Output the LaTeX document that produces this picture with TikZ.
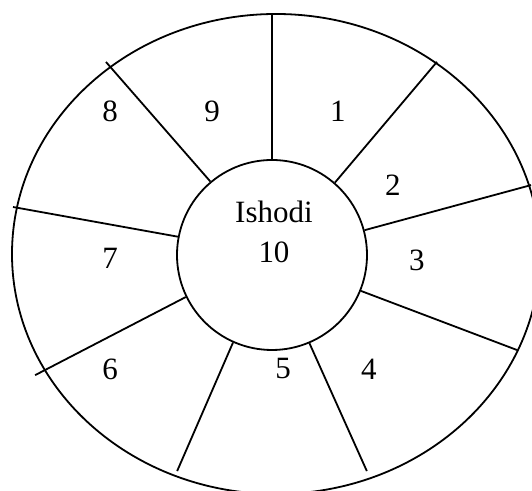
\documentclass[tikz,border=0pt]{standalone}
\usepackage{fontspec}
\setmainfont{Liberation Serif}
\usepackage{tikz}
\usetikzlibrary{calc}

\begin{document}
\begin{tikzpicture}[x=0.5pt, y=0.5pt, line width=0.9pt,
  font=\fontsize{15.5}{19}\selectfont,
  hubring/.style={circle,draw,minimum size=95pt,inner sep=0pt},
  secnum/.style={inner sep=1pt}]
\useasboundingbox (0,0) rectangle (532,491);
\draw (276,237) ellipse [x radius=264, y radius=240];
\node[hubring] (hub) at (272,236) {};
\foreach \ang/\len [count=\i] in {90/242,49.5/254,15.1/268.3,338.8/262.8,293.7/236,246.3/236,206.9/265.6,169.5/263.4,130.7/254.6}{
  \coordinate (rim\i) at ($(hub.center)+(\ang:\len)$);
  \draw (hub.\ang)--(rim\i);
}
\foreach \t/\x/\y in {1/338/380,2/393/306,3/417/231,4/369/122,5/283/122,6/110/122,7/110/233,8/110/380,9/212/380}{
  \node[secnum] (num\t) at (\x,\y){\t};
}
\node[anchor=base] (hubname) at (274,268){Ishodi};
\node[anchor=base] (hubnum) at (274,228){10};
\end{tikzpicture}
\end{document}
